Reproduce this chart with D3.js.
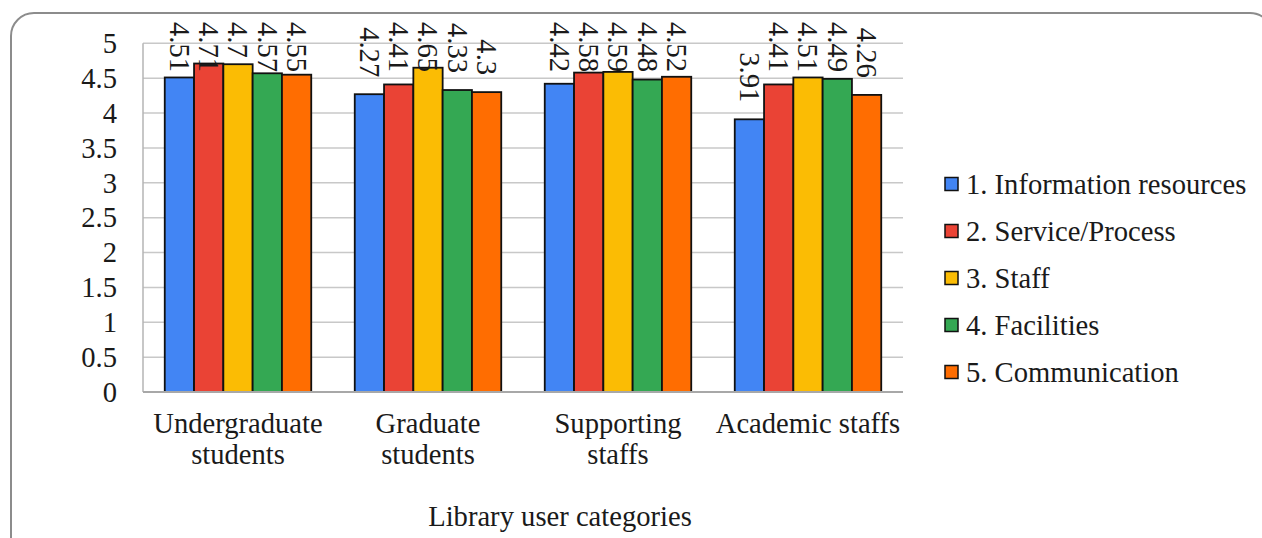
<!DOCTYPE html>
<html>
<head>
<meta charset="utf-8">
<script src="https://cdn.jsdelivr.net/npm/d3@7"></script>
<style>
  body { margin: 0; background: #fff; }
  svg { display: block; }
  text { font-family: "Liberation Serif", "Times New Roman", serif; fill: #1a1a1a; }
</style>
</head>
<body>
<svg id="chart" width="1262" height="538"></svg>
<script>
// data
var categories = [['Undergraduate', 'students'], ['Graduate', 'students'], ['Supporting', 'staffs'], ['Academic staffs']];
var seriesNames = ['1. Information resources', '2. Service/Process', '3. Staff', '4. Facilities', '5. Communication'];
var infoResources = [4.51, 4.27, 4.42, 3.91];
var serviceProcess = [4.71, 4.41, 4.58, 4.41];
var staff = [4.7, 4.65, 4.59, 4.51];
var facilities = [4.57, 4.33, 4.48, 4.49];
var communication = [4.55, 4.3, 4.52, 4.26];
var yTicks = [0, 0.5, 1, 1.5, 2, 2.5, 3, 3.5, 4, 4.5, 5];
var axisTitle = 'Library user categories';

var seriesValues = [infoResources, serviceProcess, staff, facilities, communication];
var colors = ['#4285f4', '#ea4335', '#fbbc04', '#34a853', '#ff6d01'];
var fontSize = '28.6px';

var svg = d3.select('#chart');

// outer rounded frame (runs off the right and bottom edges)
svg.append('rect')
  .attr('x', 11).attr('y', 13)
  .attr('width', 1262).attr('height', 560)
  .attr('rx', 23).attr('ry', 23)
  .attr('fill', 'none')
  .attr('stroke', '#8c8c8c')
  .attr('stroke-width', 2);

var plotLeft = 143, plotRight = 903, plotTop = 43.3, plotBottom = 392;

var catKeys = categories.map(function (c) { return c.join(' '); });

var x0 = d3.scaleBand()
  .domain(catKeys)
  .range([plotLeft, plotRight])
  .paddingInner(0.229)
  .paddingOuter(0.1145);

var x1 = d3.scaleBand()
  .domain(seriesNames)
  .range([0, x0.bandwidth()]);

var y = d3.scaleLinear()
  .domain([0, 5])
  .range([plotBottom, plotTop]);

// gridlines
svg.append('g').selectAll('line')
  .data(yTicks.filter(function (t) { return t > 0; }))
  .enter().append('line')
  .attr('x1', plotLeft).attr('x2', plotRight)
  .attr('y1', function (d) { return y(d); })
  .attr('y2', function (d) { return y(d); })
  .attr('stroke', '#c8c8c8')
  .attr('stroke-width', 1.5);

// y axis line
svg.append('line')
  .attr('x1', plotLeft).attr('x2', plotLeft)
  .attr('y1', plotTop).attr('y2', plotBottom)
  .attr('stroke', '#b4b4b4').attr('stroke-width', 1.5);

// y tick labels
svg.append('g').selectAll('text')
  .data(yTicks)
  .enter().append('text')
  .attr('x', 117)
  .attr('y', function (d) { return y(d); })
  .attr('dy', '0.34em')
  .attr('text-anchor', 'end')
  .style('font-size', fontSize)
  .text(function (d) { return d; });

// bars
var groups = svg.append('g').selectAll('g')
  .data(catKeys)
  .enter().append('g')
  .attr('transform', function (d) { return 'translate(' + x0(d) + ',0)'; });

groups.selectAll('rect')
  .data(function (d, ci) {
    return seriesNames.map(function (s, si) { return { s: s, si: si, v: seriesValues[si][ci] }; });
  })
  .enter().append('rect')
  .attr('x', function (d) { return x1(d.s); })
  .attr('y', function (d) { return y(d.v); })
  .attr('width', x1.bandwidth())
  .attr('height', function (d) { return y(0) - y(d.v); })
  .attr('fill', function (d) { return colors[d.si]; })
  .attr('stroke', '#111')
  .attr('stroke-width', 1.8);

// x axis line
svg.append('line')
  .attr('x1', plotLeft).attr('x2', plotRight)
  .attr('y1', plotBottom).attr('y2', plotBottom)
  .attr('stroke', '#a8a8a8').attr('stroke-width', 2);

// value labels, rotated and kept below the top limit
var labelTop = 22, labelGap = 17;
groups.selectAll('text.val')
  .data(function (d, ci) {
    return seriesNames.map(function (s, si) { return { s: s, si: si, v: seriesValues[si][ci] }; });
  })
  .enter().append('text')
  .attr('class', 'val')
  .style('font-size', fontSize)
  .attr('dy', '0.34em')
  .text(function (d) { return d.v; })
  .each(function (d) {
    var len = this.getComputedTextLength();
    var cx = x1(d.s) + x1.bandwidth() / 2;
    var end = y(d.v) - labelGap;
    var start = Math.max(labelTop, end - len);
    d3.select(this)
      .attr('text-anchor', 'start')
      .attr('transform', 'translate(' + cx + ',' + start + ') rotate(90)');
  });

// category labels
svg.append('g').selectAll('text')
  .data(categories)
  .enter().append('text')
  .attr('x', function (d, i) { return x0(catKeys[i]) + x0.bandwidth() / 2; })
  .attr('y', 433)
  .attr('text-anchor', 'middle')
  .style('font-size', fontSize)
  .selectAll('tspan')
  .data(function (d) { return d; })
  .enter().append('tspan')
  .attr('x', function () { return d3.select(this.parentNode).attr('x'); })
  .attr('dy', function (d, i) { return i === 0 ? 0 : 31; })
  .text(function (d) { return d; });

// axis title
svg.append('text')
  .attr('x', 560).attr('y', 526)
  .attr('text-anchor', 'middle')
  .style('font-size', fontSize)
  .text(axisTitle);

// legend
var legend = svg.append('g').selectAll('g')
  .data(seriesNames)
  .enter().append('g')
  .attr('transform', function (d, i) { return 'translate(945,' + (184 + i * 47) + ')'; });

legend.append('rect')
  .attr('x', 0).attr('y', -6.5)
  .attr('width', 13).attr('height', 13)
  .attr('fill', function (d, i) { return colors[i]; })
  .attr('stroke', '#111').attr('stroke-width', 1.5);

legend.append('text')
  .attr('x', 21).attr('y', 0)
  .attr('dy', '0.34em')
  .style('font-size', fontSize)
  .text(function (d) { return d; });
</script>
</body>
</html>
